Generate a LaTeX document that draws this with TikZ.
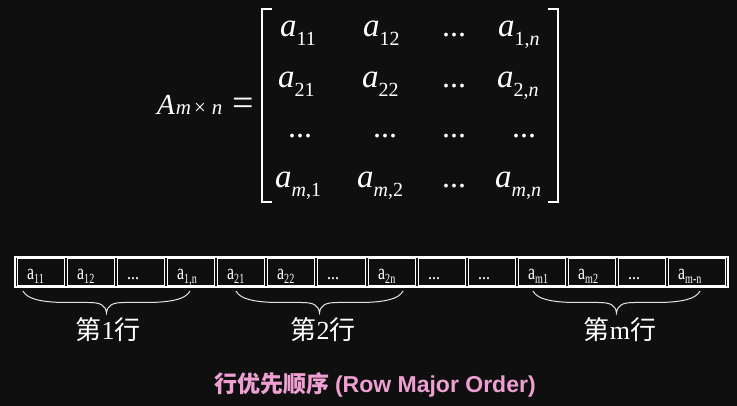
\documentclass[tikz,border=0pt]{standalone}
\usepackage{fontspec}
\setmainfont{Liberation Serif}
\newfontfamily\cjkfont{Noto Sans CJK SC}
\newfontfamily\sansfont{Liberation Sans}
\definecolor{bgc}{HTML}{0F0F0F}
\definecolor{pinkc}{HTML}{EFA0D2}
\newcommand\ment[2]{{\fontsize{33}{33}\selectfont\itshape #1}\raisebox{-9pt}{\fontsize{20}{20}\selectfont #2}}
\newcommand\cel[1]{\scalebox{0.72}[1]{{\fontsize{22}{22}\selectfont a}\raisebox{-3.5pt}{\fontsize{14}{14}\selectfont #1}}}
\newcommand\celdots{\scalebox{0.8}[1]{\fontsize{20}{20}\selectfont ...}}
\tikzset{
  entry/.style={anchor=base west, inner sep=0pt, text=white},
  dotsent/.style={anchor=base west, inner sep=0pt, text=white, font=\fontsize{32}{32}\selectfont},
  cellline/.style={draw=white, line width=1pt},
  celltext/.style={anchor=base west, inner sep=0pt, text=white},
  bracel/.style={draw=white!90!black, line width=1pt},
  rowlabel/.style={inner sep=0pt, text=white, font=\fontsize{26}{26}\selectfont},
  bracket/.style={draw=white, line width=1.6pt}
}
\begin{document}
\begin{tikzpicture}[x=1pt,y=-1pt]
\fill[bgc] (0,0) rectangle (737,406);
\useasboundingbox (0,0) rectangle (737,406);

% left side A_{m x n} =
\node[entry] (A) at (157,115) {{\fontsize{29}{29}\selectfont\itshape A}\hspace{1pt}{\fontsize{21}{21}\selectfont\itshape m\hspace{3pt}\upshape×\hspace{6pt}\itshape n}};
\node[inner sep=0pt, text=white, font=\fontsize{38}{38}\selectfont] (eq) at (243,107) {=};

% brackets
\draw[bracket] (272,9) -- (262,9) -- (262,202) -- (272,202);
\draw[bracket] (548,9) -- (558,9) -- (558,202) -- (548,202);

% matrix entries
\node[entry] (e11) at (280,37) {\ment{a}{11}};
\node[entry] (e12) at (363,37) {\ment{a}{12}};
\node[dotsent] (e13) at (442,37) {...};
\node[entry] (e14) at (498,37) {\ment{a}{1,\textit{n}}};
\node[entry] (e21) at (278,88) {\ment{a}{21}};
\node[entry] (e22) at (362,88) {\ment{a}{22}};
\node[dotsent] (e23) at (442,88) {...};
\node[entry] (e24) at (497,88) {\ment{a}{2,\textit{n}}};
\node[dotsent] (e31) at (288,138) {...};
\node[dotsent] (e32) at (373,138) {...};
\node[dotsent] (e33) at (442,138) {...};
\node[dotsent] (e34) at (512,138) {...};
\node[entry] (e41) at (275,188) {\ment{a}{\textit{m},1}};
\node[entry] (e42) at (357,188) {\ment{a}{\textit{m},2}};
\node[dotsent] (e43) at (442,188) {...};
\node[entry] (e44) at (495,188) {\ment{a}{\textit{m},\textit{n}}};

% memory cells
\foreach \n/\xa/\xb/\t in {
  c1/16/66/{\cel{11}}, c2/66/116/{\cel{12}}, c3/116/166/{\celdots}, c4/166/216/{\cel{1,n}},
  c5/216/266/{\cel{21}}, c6/266/316/{\cel{22}}, c7/316/367/{\celdots}, c8/367/417/{\cel{2n}},
  c9/417/467/{\celdots}, c10/467/517/{\celdots}, c11/517/567/{\cel{m1}}, c12/567/617/{\cel{m2}},
  c13/617/667/{\celdots}, c14/667/727/{\cel{m-n}}}
{
  \draw[cellline] (\xa+1.5,258.5) rectangle (\xb-1.5,285.5);
  \node[celltext] (\n) at (\xa+11,280) {\t};
}
\draw[draw=white, line width=2pt] (15,257) rectangle (728,287);

% braces
\foreach \b/\xa/\xb in {b1/23/190, b2/236/403, b3/533/700}{
  \pgfmathsetmacro\bm{(\xa+\xb)/2}
  \coordinate (\b l) at (\xa,291);
  \coordinate (\b r) at (\xb,291);
  \coordinate (\b t) at (\bm,313);
  \draw[bracel] (\b l) .. controls (\xa+4,299) and (\xa+18,302) .. (\xa+40,302.5)
     -- (\bm-18,302.5) .. controls (\bm-6,302.5) and (\bm-1,305) .. (\b t)
     .. controls (\bm+1,305) and (\bm+6,302.5) .. (\bm+18,302.5)
     -- (\xb-40,302.5) .. controls (\xb-18,302) and (\xb-4,299) .. (\b r);
}

% row labels
\node[rowlabel] (l1) at (108,330) {{\cjkfont 第}1{\cjkfont 行}};
\node[rowlabel] (l2) at (323,330) {{\cjkfont 第}2{\cjkfont 行}};
\node[rowlabel] (l3) at (620,330) {{\cjkfont 第}m{\cjkfont 行}};

% title
\node[inner sep=0pt, text=pinkc, font=\fontsize{23}{23}\selectfont\bfseries] (title) at (375,385)
  {{\cjkfont 行优先顺序} {\sansfont (Row Major Order)}};
\end{tikzpicture}
\end{document}
